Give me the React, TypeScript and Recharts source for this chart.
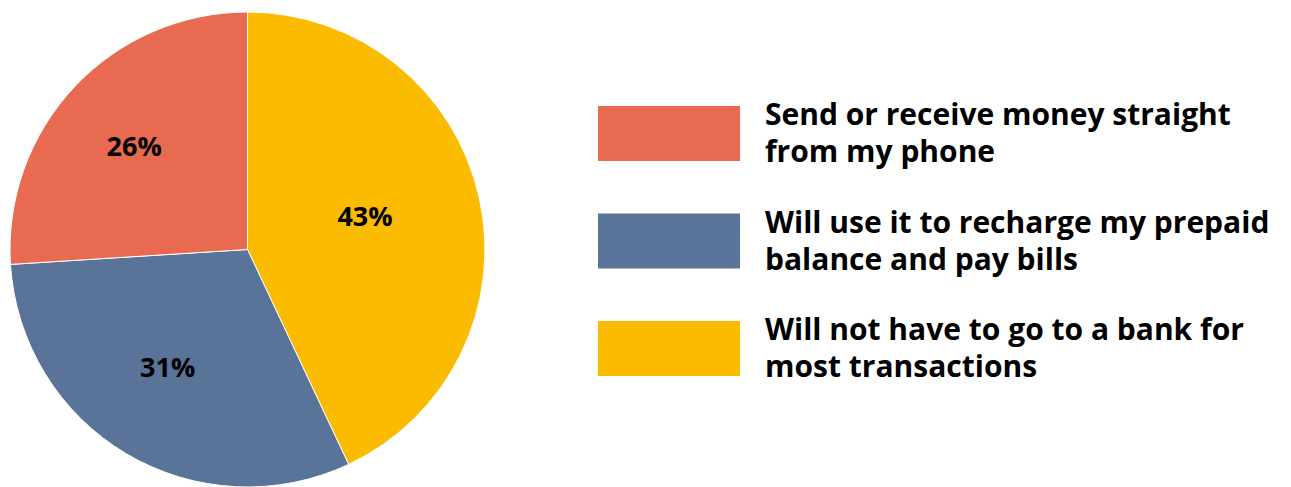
import React from 'react';
import { PieChart, Pie, Cell, Legend } from 'recharts';

// Slices in drawing order (clockwise from 12 o'clock)
const categories = [
  'Will not have to go to a bank for most transactions',
  'Will use it to recharge my prepaid balance and pay bills',
  'Send or receive money straight from my phone',
];
const shares = [43, 31, 26];
const colors = ['#FBBC00', '#5A7399', '#E86A50'];

// Legend order and wrapped label lines
const legendOrder = [2, 1, 0];
const legendLines = [
  ['Will not have to go to a bank for', 'most transactions'],
  ['Will use it to recharge my prepaid', 'balance and pay bills'],
  ['Send or receive money straight', 'from my phone'],
];

// where each percentage label sits: fraction of radius, and nudge off the mid angle
const labelRadius = [0.515, 0.6, 0.645];
const labelTurn = [3.5, -3.5, 0.9];

const data = categories.map((name, i) => ({ name, value: shares[i] }));

const FONT = '"Open Sans", "DejaVu Sans", sans-serif';
const RAD = Math.PI / 180;

const renderLabel = (props: any) => {
  const { cx, cy, midAngle, outerRadius, value, index } = props;
  const r = outerRadius * labelRadius[index];
  const a = midAngle + labelTurn[index];
  const x = cx + r * Math.cos(-a * RAD);
  const y = cy + r * Math.sin(-a * RAD);
  return (
    <text
      x={x}
      y={y + 10}
      textAnchor="middle"
      fill="#000"
      fontFamily={FONT}
      fontWeight={700}
      fontSize={27}
    >
      {`${value}%`}
    </text>
  );
};

const LegendBox = () => (
  <svg width={693} height={320} style={{ overflow: 'visible' }}>
    {legendOrder.map((idx, row) => {
      const top = 16 + row * 107.5;
      return (
        <g key={idx}>
          <rect x={0} y={top} width={142} height={55} fill={colors[idx]} />
          {legendLines[idx].map((line, j) => (
            <text
              key={j}
              x={167}
              y={top + 19 + j * 37}
              fontFamily={FONT}
              fontWeight={700}
              fontSize={30}
              fill="#000"
            >
              {line}
            </text>
          ))}
        </g>
      );
    })}
  </svg>
);

export default function App() {
  return (
    <div style={{ position: 'absolute', left: 0, top: 0, width: 1291, height: 487, background: '#fff' }}>
      <PieChart width={1291} height={487} margin={{ top: 0, right: 0, bottom: 0, left: 0 }}>
        <Pie
          data={data}
          dataKey="value"
          nameKey="name"
          cx={247.5}
          cy={249.5}
          outerRadius={237.5}
          startAngle={90}
          endAngle={-270}
          stroke="#fff"
          strokeWidth={1}
          label={renderLabel}
          labelLine={false}
          isAnimationActive={false}
        >
          {data.map((d, i) => (
            <Cell key={d.name} fill={colors[i]} />
          ))}
        </Pie>
        <Legend
          content={<LegendBox />}
          wrapperStyle={{ position: 'absolute', left: 598, top: 90, width: 693 }}
        />
      </PieChart>
    </div>
  );
}
